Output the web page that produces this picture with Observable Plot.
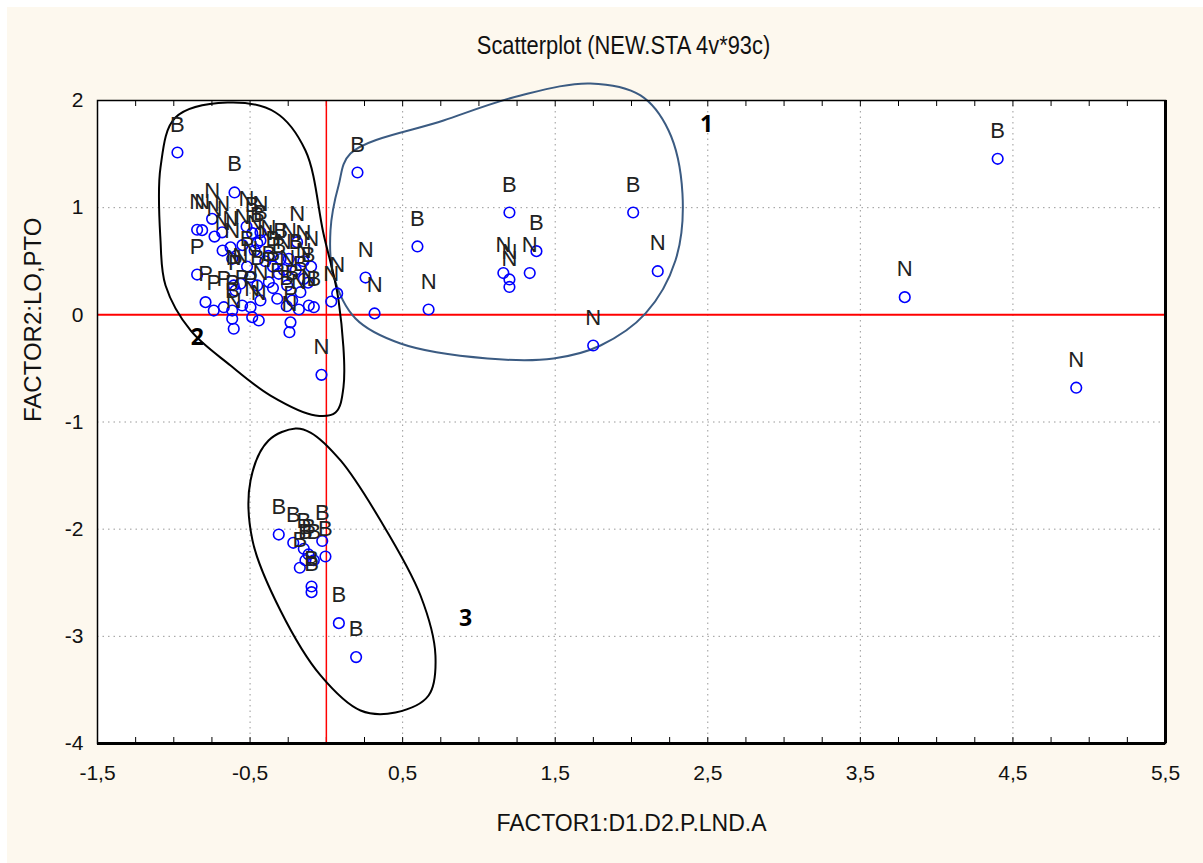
<!DOCTYPE html>
<html><head><meta charset="utf-8">
<script src="https://cdn.jsdelivr.net/npm/d3@7"></script>
<script src="https://cdn.jsdelivr.net/npm/@observablehq/plot@0.6"></script>
<style>
body{margin:0;background:#fff;width:1203px;height:863px;overflow:hidden;position:relative}
#bg{position:absolute;left:7px;top:7px;right:0;bottom:0;background:#fdf8ee}
#title{position:absolute;left:22px;top:29px;width:1203px;text-align:center;font-size:26px;font-family:"Liberation Sans",Arial,sans-serif;line-height:32px;color:#111;transform:scaleX(0.84);transform-origin:center}
#chart{position:absolute;left:0;top:80px}
</style></head><body>
<div id="bg"></div>
<div id="title">Scatterplot (NEW.STA 4v*93c)</div>
<div id="chart"></div>
<script>
// --- case scores (FACTOR1, FACTOR2) and their marker labels ---
const factor1 = [
 // group 2 (dense cluster)
 -0.976,-0.602,-0.847,-0.814,-0.749,-0.733,-0.683,-0.628,-0.523,-0.486,-0.453,-0.432,-0.432,-0.617,
 -0.847,-0.792,-0.738,-0.672,-0.617,-0.617,-0.607,-0.596,-0.563,-0.607,-0.552,-0.497,-0.486,-0.453,
 -0.432,-0.377,-0.322,-0.312,-0.257,-0.224,-0.235,-0.242,-0.170,-0.148,-0.115,-0.082,-0.192,-0.246,
 -0.443,-0.400,-0.350,-0.380,-0.300,-0.280,-0.200,-0.150,-0.120,-0.100,-0.520,-0.500,-0.470,-0.350,
 -0.550,-0.680,-0.260,-0.180,
 // group 3
 -0.312,-0.217,-0.148,-0.174,-0.137,-0.117,-0.082,-0.027,-0.006,-0.097,-0.097,0.082,0.195,
 // group 1 and outliers
 0.204,0.597,0.257,0.316,0.670,1.200,1.160,1.200,1.200,1.377,1.333,2.011,2.172,1.749,
 3.791,4.400,4.915,0.032,0.071,-0.032
];
const factor2 = [
 1.515,1.142,0.794,0.790,0.896,0.730,0.770,0.630,0.824,0.762,0.669,0.770,0.694,0.523,
 0.376,0.118,0.040,0.071,0.040,-0.037,-0.130,0.227,0.290,0.274,0.087,0.071,-0.022,0.274,
 0.134,0.305,0.150,0.383,0.274,0.134,-0.070,-0.162,0.211,0.336,0.087,0.071,0.678,0.523,
 -0.053,0.500,0.450,0.550,0.520,0.420,0.420,0.500,0.300,0.450,0.450,0.350,0.600,0.250,
 0.650,0.600,0.080,0.050,
 -2.050,-2.127,-2.183,-2.360,-2.290,-2.236,-2.290,-2.110,-2.255,-2.535,-2.588,-2.877,-3.194,
 1.328,0.638,0.348,0.013,0.050,0.955,0.390,0.330,0.260,0.594,0.390,0.955,0.407,-0.286,
 0.165,1.456,-0.680,0.124,0.200,-0.560
];
const caseLabels = [
 "B","B","N","N","N","N","N","N","N","B","B","N","B","N",
 "P","P","P","P","P","B","N","P","N","N","P","P","N","B",
 "N","B","P","B","N","B","P","N","B","N","N","B","N","N",
 "N","N","B","N","B","N","B","N","B","N","B","N","N","P",
 "N","N","B","N",
 "B","B","B","B","B","B","B","B","B","B","B","B","B",
 "B","B","N","N","N","B","N","N","N","B","N","B","N","N",
 "N","B","N","N","N","N"
];

// --- hand-drawn group outlines (in factor units) ---
const outline1X = [0.158,0.768,1.273,1.731,2.059,2.243,2.334,2.288,2.092,1.797,1.489,1.056,0.486,0.191,0.047,0.027,0.080];
const outline1Y = [1.505,1.813,2.047,2.159,2.047,1.720,1.132,0.507,0.013,-0.286,-0.407,-0.407,-0.267,-0.034,0.367,0.787,1.207];
const outline2X = [-0.648,-0.333,-0.137,-0.019,0.080,0.112,0.060,-0.071,-0.366,-0.628,-0.890,-1.054,-1.087,-1.087,-0.989];
const outline2Y = [1.981,1.888,1.533,0.759,0.134,-0.678,-0.911,-0.939,-0.753,-0.473,-0.146,0.274,0.694,1.375,1.841];
const outline3X = [-0.202,-0.379,-0.497,-0.484,-0.301,-0.038,0.224,0.453,0.670,0.715,0.617,0.355,0.093,-0.104];
const outline3Y = [-1.060,-1.173,-1.546,-2.106,-2.759,-3.365,-3.692,-3.710,-3.552,-3.179,-2.619,-1.919,-1.359,-1.098];
const groupNames = ["1","2","3"];
const groupLabelX = [2.492,-0.845,0.912];
const groupLabelY = [1.776,-0.211,-2.833];

// --- axis ticks and titles ---
const xTicks = [-1.5,-0.5,0.5,1.5,2.5,3.5,4.5,5.5];
const yTicks = [-4,-3,-2,-1,0,1,2];
const xMinorTicks = d3.range(-1.5, 5.5001, 0.25);
const xTitle = "FACTOR1:D1.D2.P.LND.A";
const yTitle = "FACTOR2:LO,PTO";

const points = factor1.map((x,i)=>({x, y:factor2[i], label:caseLabels[i]}));
const toPts = (xs,ys)=>xs.map((x,i)=>({x,y:ys[i]}));
const loop1 = toPts(outline1X,outline1Y);
const loop2 = toPts(outline2X,outline2Y);
const loop3 = toPts(outline3X,outline3Y);
const groupLbl = groupNames.map((t,i)=>({t,x:groupLabelX[i],y:groupLabelY[i]}));

const W=1203,H=783,mL=97,mR=38,mT=20,mB=120;
const frameH=H-mT-mB;
const sans='"Liberation Sans",Arial,sans-serif';
const fmt = d=>String(d).replace(".",",");

const chart = Plot.plot({
  width:W,height:H,marginLeft:mL,marginRight:mR,marginTop:mT,marginBottom:mB,
  x:{domain:[-1.5,5.5]}, y:{domain:[-4,2]},
  style:{background:"transparent",fontFamily:sans,fontSize:"21px",color:"#111"},
  marks:[
    Plot.frame({fill:"white",stroke:null}),
    Plot.gridX(xTicks.slice(1,-1),{stroke:"#999",strokeOpacity:1,strokeDasharray:"1.5,4"}),
    Plot.gridY([-3,-2,-1,1],{stroke:"#999",strokeOpacity:1,strokeDasharray:"1.5,4"}),
    Plot.ruleX(xMinorTicks,{insetBottom:frameH-6,stroke:"#000"}),
    Plot.ruleX(xMinorTicks,{insetTop:frameH-6,stroke:"#000"}),
    Plot.ruleX([0],{stroke:"#ff0000",strokeWidth:1.5}),
    Plot.ruleY([0],{stroke:"#ff0000",strokeWidth:2}),
    Plot.line(loop1,{x:"x",y:"y",curve:"catmull-rom-closed",stroke:"#3b5b82",strokeWidth:2}),
    Plot.line(loop2,{x:"x",y:"y",curve:"catmull-rom-closed",stroke:"#000",strokeWidth:2}),
    Plot.line(loop3,{x:"x",y:"y",curve:"catmull-rom-closed",stroke:"#000",strokeWidth:2}),
    Plot.dot(points,{x:"x",y:"y",r:5.3,stroke:"#0000ff",strokeWidth:1.6,fill:"none"}),
    Plot.text(points,{x:"x",y:"y",text:"label",dy:-28,fontSize:22,fill:"#222",fontFamily:sans}),
    Plot.text(groupLbl,{x:"x",y:"y",text:"t",fontSize:23,fontWeight:"bold",fill:"#000",fontFamily:'"Open Sans",Arial,sans-serif'}),
    Plot.frame({stroke:"#000",strokeWidth:1.5}),
    Plot.ruleY([-4],{stroke:"#000",strokeWidth:3}),
    Plot.ruleX([5.5],{stroke:"#000",strokeWidth:3}),
    Plot.axisX(xTicks,{tickSize:0,tickPadding:22,tickFormat:fmt,fontSize:21,label:null}),
    Plot.axisY(yTicks,{tickSize:0,tickPadding:14,tickFormat:d=>String(d),fontSize:21,label:null}),
    Plot.text([xTitle],{frameAnchor:"bottom",dy:87,fontSize:23,fill:"#111",text:d=>d}),
    Plot.text([yTitle],{frameAnchor:"left",dx:-64,rotate:-90,fontSize:24,letterSpacing:"1.5px",fill:"#111",text:d=>d})
  ]
});
document.getElementById("chart").appendChild(chart);
</script>
</body></html>
